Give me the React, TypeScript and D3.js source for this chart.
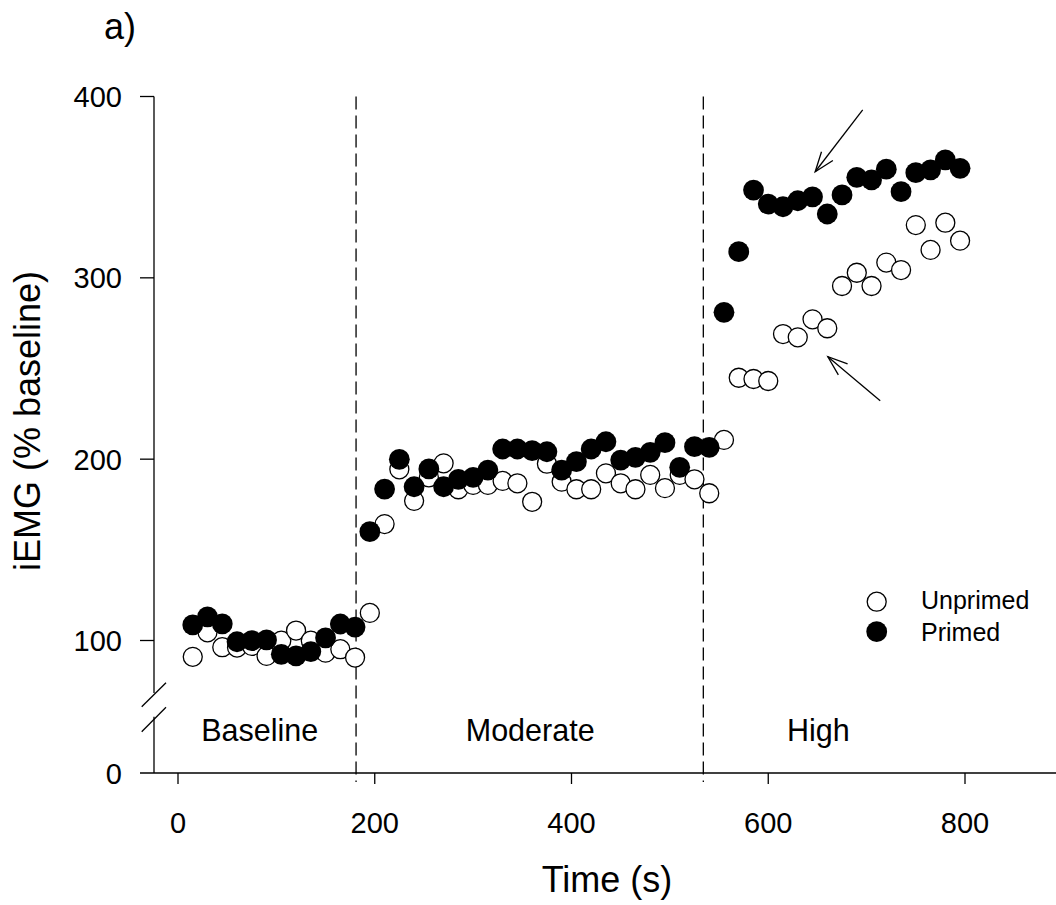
import React from "react";
import * as d3 from "d3";

const times = [15, 30, 45, 60, 75, 90, 105, 120, 135, 150, 165, 180,
  195, 210, 225, 240, 255, 270, 285, 300, 315, 330, 345, 360, 375, 390, 405, 420, 435, 450, 465, 480, 495, 510, 525, 540,
  555, 570, 585, 600, 615, 630, 645, 660, 675, 690, 705, 720, 735, 750, 765, 780, 795];

const primed = [108.6, 113, 109.2, 99.3, 99.9, 100.3, 92.4, 91.5, 93.9, 101.4, 109.1, 107.4,
  160, 183.5, 199.9, 184.8, 194.6, 184.8, 188.9, 190, 194, 205.6, 205.6, 204.7, 204.1, 194, 198.6, 205.6, 209.6, 199.5, 201, 203.8, 209.1, 195.5, 206.9, 206.5,
  281, 314.4, 348.4, 340.7, 339.2, 342.5, 344.7, 335.2, 345.7, 355.4, 354, 359.9, 347.5, 358, 359.5, 365, 360.4];

const unprimed = [91, 104.5, 96.3, 96.1, 97, 91.5, 99.9, 105.5, 99.9, 93.3, 95.2, 90.6,
  115.2, 164.2, 194.4, 177, 190, 197.7, 183.4, 185.8, 185.8, 188, 186.7, 176.5, 197.5, 187.6, 183.4, 183.4, 192.2, 186.7, 183.4, 191.3, 184, 191.3, 188.9, 181.2,
  210.6, 244.9, 244.2, 243.1, 269, 267.2, 277.1, 272.2, 295.5, 302.8, 295.5, 308.4, 304.3, 329.1, 315.4, 330.4, 320.5];

const xTicks = [0, 200, 400, 600, 800];
const yTicksUpper = [100, 200, 300, 400];
const yTicksLower = [0];
const phaseBounds = [181, 534];
const phases = [
  { label: "Baseline", t: 83 },
  { label: "Moderate", t: 358 },
  { label: "High", t: 651 },
];
const arrows = [
  { from: [696, 392.6], to: [647.7, 358.5] },
  { from: [713.8, 232.2], to: [660.6, 256.5] },
];
const seriesNames = ["Unprimed", "Primed"];

const FONT = "'Liberation Sans', Arial, Helvetica, sans-serif";

export default function App() {
  const W = 1056, H = 905;
  const axisX = 154;
  const axisY = 773;
  const x = d3.scaleLinear().domain([0, 800]).range([178, 965]);
  const yU = d3.scaleLinear().domain([100, 400]).range([640.5, 96.5]);
  const yL = d3.scaleLinear().domain([0, 30]).range([axisY, axisY - 54.4]);
  const rOpen = 9.5;
  const rFill = 10.4;

  const arrowHead = (from: number[], to: number[]) => {
    const tx = x(to[0]), ty = yU(to[1]);
    const fx = x(from[0]), fy = yU(from[1]);
    const ang = Math.atan2(fy - ty, fx - tx);
    const L = 21, a = (20 * Math.PI) / 180;
    const p1 = [tx + L * Math.cos(ang + a), ty + L * Math.sin(ang + a)];
    const p2 = [tx + L * Math.cos(ang - a), ty + L * Math.sin(ang - a)];
    return `M${p1[0]},${p1[1]}L${tx},${ty}L${p2[0]},${p2[1]}`;
  };

  return (
    <svg width={W} height={H} style={{ position: "absolute", left: 0, top: 0, background: "#fff" }} fontFamily={FONT}>
      <rect x={0} y={0} width={W} height={H} fill="#fff" />
      <text x={104} y={38.5} fontSize={36}>a)</text>

      {/* y axis */}
      <line x1={axisX} x2={axisX} y1={yU(400)} y2={693} stroke="#000" strokeWidth={1.3} />
      <line x1={axisX} x2={axisX} y1={716.7} y2={axisY} stroke="#000" strokeWidth={1.3} />
      <line x1={141.7} y1={706.7} x2={166} y2={682.7} stroke="#000" strokeWidth={1.3} />
      <line x1={141.7} y1={731.7} x2={166} y2={707.3} stroke="#000" strokeWidth={1.3} />
      {yTicksUpper.map((v) => (
        <g key={v}>
          <line x1={140} x2={axisX} y1={yU(v)} y2={yU(v)} stroke="#000" strokeWidth={1.3} />
          <text x={122} y={yU(v) + 10.5} fontSize={29} textAnchor="end">{v}</text>
        </g>
      ))}
      {yTicksLower.map((v) => (
        <text key={v} x={122} y={yL(v) + 10.5} fontSize={29} textAnchor="end">{v}</text>
      ))}

      {/* x axis */}
      <line x1={140} x2={W} y1={axisY} y2={axisY} stroke="#000" strokeWidth={1.3} />
      {xTicks.map((t) => (
        <g key={t}>
          <line x1={x(t)} x2={x(t)} y1={axisY} y2={axisY + 11} stroke="#000" strokeWidth={1.3} />
          <text x={x(t)} y={833} fontSize={29} textAnchor="middle">{t}</text>
        </g>
      ))}

      {/* dashed phase boundaries */}
      {phaseBounds.map((t) => (
        <line key={t} x1={x(t)} x2={x(t)} y1={yU(400)} y2={782} stroke="#000" strokeWidth={1.3} strokeDasharray="13,6" />
      ))}
      {phases.map((p) => (
        <text key={p.label} x={x(p.t)} y={741} fontSize={30.5} textAnchor="middle">{p.label}</text>
      ))}

      {/* data */}
      {times.map((t, i) => (
        <circle key={"u" + t} cx={x(t)} cy={yU(unprimed[i])} r={rOpen} fill="#fff" stroke="#000" strokeWidth={1.3} />
      ))}
      {times.map((t, i) => (
        <circle key={"p" + t} cx={x(t)} cy={yU(primed[i])} r={rFill} fill="#000" />
      ))}

      {/* arrows */}
      {arrows.map((a, i) => (
        <g key={i} fill="none" stroke="#000" strokeWidth={1.3}>
          <line x1={x(a.from[0])} y1={yU(a.from[1])} x2={x(a.to[0])} y2={yU(a.to[1])} />
          <path d={arrowHead(a.from, a.to)} />
        </g>
      ))}

      {/* legend */}
      <circle cx={876.7} cy={601.7} r={rOpen} fill="#fff" stroke="#000" strokeWidth={1.3} />
      <circle cx={876.7} cy={631.7} r={rFill} fill="#000" />
      <text x={921} y={609} fontSize={25}>{seriesNames[0]}</text>
      <text x={921} y={641} fontSize={25}>{seriesNames[1]}</text>

      {/* axis titles */}
      <text x={607} y={892} fontSize={36} textAnchor="middle">Time (s)</text>
      <text transform={`translate(40,421) rotate(-90)`} fontSize={36} textAnchor="middle">iEMG (% baseline)</text>
    </svg>
  );
}
